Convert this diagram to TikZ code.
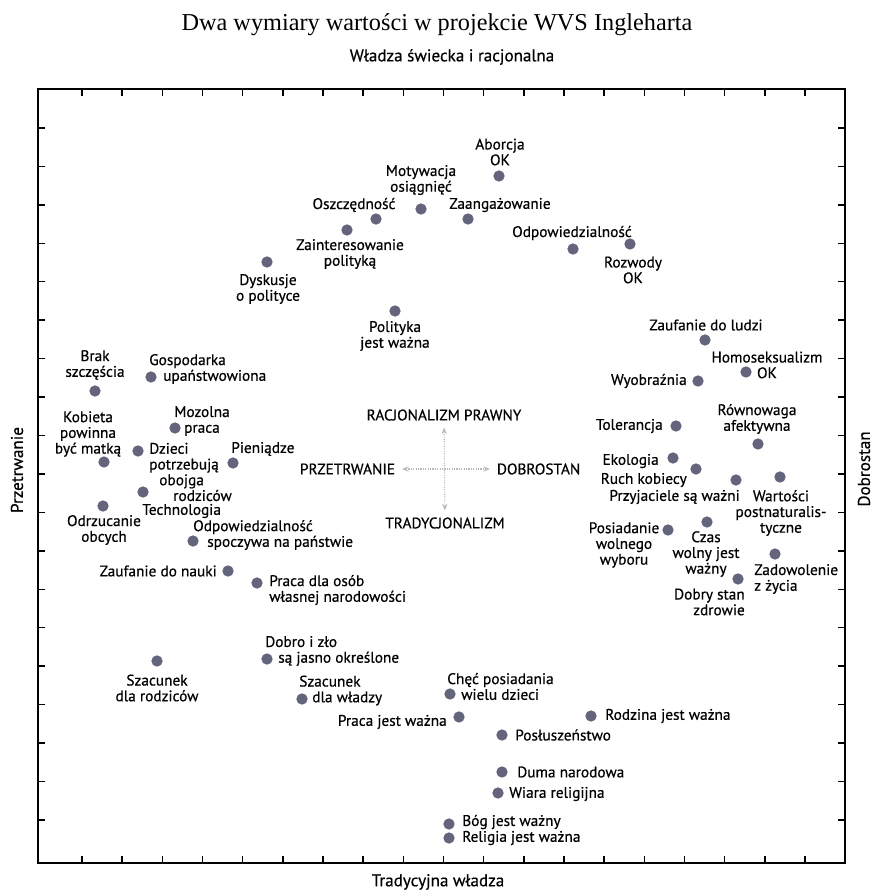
\documentclass[tikz,border=0pt]{standalone}
\usepackage{fontspec}
\setmainfont{Liberation Serif}
\setsansfont{PT Sans}[FakeBold=0.5]
\usepackage{tikz}
\usetikzlibrary{arrows.meta,positioning}
\definecolor{dotc}{RGB}{100,100,124}

\begin{document}
\begin{tikzpicture}[
x=0.75pt, y=-0.75pt,
font=\sffamily\fontsize{11.5}{11.8}\selectfont,
pkt/.style={circle,fill=dotc,minimum size=8.5pt,inner sep=0pt},
lbl/.style={inner sep=0pt,align=center},
axlbl/.style={font=\sffamily\fontsize{12.8}{14}\selectfont},
cross/.style={<->,densely dotted,gray!55,thick,shorten >=3pt,shorten <=3pt,>={Stealth[open,length=5pt,width=4pt]}},
tickmark/.style={line width=1.1pt}
]
    \useasboundingbox (0,0) rectangle (874,893);

    % Titles
    \node[font=\rmfamily\fontsize{18.2}{21}\selectfont] (title) at (437,25) {Dwa wymiary wartości w projekcie WVS Ingleharta};
    \node[axlbl] (gora) at (452,57) {Władza świecka i racjonalna};
    \node[axlbl] (dol) at (438,882) {Tradycyjna władza};
    \node[axlbl,rotate=90] (lewo) at (17,470) {Przetrwanie};
    \node[axlbl,rotate=90] (prawo) at (864,469) {Dobrostan};

    % Draw frame and ticks
    \draw[line width=1.5pt]
    (38,89) coordinate (NW) rectangle (845,863) coordinate (SE);
    \foreach \i in {0,...,18} {
      \draw[tickmark] ({82+40.17*\i},89) -- ++(0,7);
      \draw[tickmark] ({82+40.17*\i},863) -- ++(0,-7);
      \draw[tickmark] (38,{128+38.44*\i}) -- ++(7,0);
      \draw[tickmark] (845,{128+38.44*\i}) -- ++(-7,0);
    }

    % Cross in the middle
    \node[inner sep=2pt] (racj) at (444,415) {RACJONALIZM PRAWNY};
    \node[inner sep=2pt] (trad) at (445,523) {TRADYCJONALIZM};
    \node[inner sep=2pt,anchor=east] (przetr) at (398,469) {PRZETRWANIE};
    \node[inner sep=2pt,anchor=west] (dobr) at (494,469) {DOBROSTAN};
    \draw[cross] (przetr) -- (dobr);
    \draw[cross] (racj) -- (trad);

    % Upper part
    \node[pkt] (aborcja) at (499,176) {};
    \node[lbl] (aborcja-l) at (500,152) {Aborcja\\OK};
    \node[pkt] (motyw) at (421,209) {};
    \node[lbl] (motyw-l) at (421,180) {Motywacja\\osiągnięć};
    \node[pkt] (oszcz) at (376,219) {};
    \node[lbl] (oszcz-l) at (354,205) {Oszczędność};
    \node[pkt] (zaang) at (468,219) {};
    \node[lbl] (zaang-l) at (500,205) {Zaangażowanie};
    \node[pkt] (zaint) at (347,230) {};
    \node[lbl] (zaint-l) at (350,254) {Zainteresowanie\\polityką};
    \node[pkt] (odpow) at (573,249) {};
    \node[lbl] (odpow-l) at (572,233) {Odpowiedzialność};
    \node[pkt] (rozwody) at (630,244) {};
    \node[lbl] (rozwody-l) at (633,270) {Rozwody\\OK};
    \node[pkt] (dysk) at (267,262) {};
    \node[lbl] (dysk-l) at (268,289) {Dyskusje\\o polityce};
    \node[pkt] (polit) at (395,311) {};
    \node[lbl] (polit-l) at (395,336) {Polityka\\jest ważna};

    % Right part
    \node[pkt] (zaufl) at (705,340) {};
    \node[lbl] (zaufl-l) at (706,325) {Zaufanie do ludzi};
    \node[pkt] (homo) at (746,372) {};
    \node[lbl] (homo-l) at (767,365) {Homoseksualizm\\OK};
    \node[pkt] (wyobr) at (698,381) {};
    \node[lbl,anchor=east] (wyobr-l) at (687,381) {Wyobraźnia};
    \node[pkt] (rown) at (758,444) {};
    \node[lbl] (rown-l) at (757,419) {Równowaga\\afektywna};
    \node[pkt] (toler) at (676,426) {};
    \node[lbl,anchor=east] (toler-l) at (663,426) {Tolerancja};
    \node[pkt] (ekol) at (673,458) {};
    \node[lbl,anchor=east] (ekol-l) at (659,461) {Ekologia};
    \node[pkt] (ruch) at (696,469) {};
    \node[lbl,anchor=east] (ruch-l) at (687,480) {Ruch kobiecy};
    \node[pkt] (przyj) at (736,480) {};
    \node[lbl,anchor=east] (przyj-l) at (740,497) {Przyjaciele są ważni};
    \node[pkt] (wart) at (780,477) {};
    \node[lbl] (wart-l) at (781,513) {Wartości\\postnaturalis-\\tyczne};
    \node[pkt] (posiad) at (668,530) {};
    \node[lbl] (posiad-l) at (624,545) {Posiadanie\\wolnego\\wyboru};
    \node[pkt] (czas) at (707,522) {};
    \node[lbl] (czas-l) at (706,554) {Czas\\wolny jest\\ważny};
    \node[pkt] (zadow) at (775,554) {};
    \node[lbl,align=left,anchor=west] (zadow-l) at (754,579) {Zadowolenie\\z życia};
    \node[pkt] (zdrow) at (738,579) {};
    \node[lbl,align=right,anchor=east] (zdrow-l) at (745,602) {Dobry stan\\zdrowie};

    % Left part
    \node[pkt] (brak) at (95,391) {};
    \node[lbl] (brak-l) at (95,365) {Brak\\szczęścia};
    \node[pkt] (gosp) at (151,377) {};
    \node[lbl,align=left,anchor=west] (gosp-l) at (163,369) {\hspace*{-10.5pt}Gospodarka\\upaństwowiona};
    \node[pkt] (mozol) at (175,428) {};
    \node[lbl] (mozol-l) at (202,421) {Mozolna\\praca};
    \node[pkt] (kobieta) at (104,462) {};
    \node[lbl] (kobieta-l) at (88,434) {Kobieta\\powinna\\być matką};
    \node[pkt] (dzieci) at (138,451) {};
    \node[lbl,align=left,anchor=west] (dzieci-l) at (149,472) {Dzieci\\potrzebują\\\hspace*{7.5pt}obojga\\\hspace*{18pt}rodziców};
    \node[pkt] (pieniadze) at (233,463) {};
    \node[lbl,anchor=west] (pieniadze-l) at (231,449) {Pieniądze};
    \node[pkt] (techn) at (143,492) {};
    \node[lbl,anchor=west] (techn-l) at (142,511) {Technologia};
    \node[pkt] (odrz) at (103,506) {};
    \node[lbl] (odrz-l) at (104,530) {Odrzucanie\\obcych};
    \node[pkt] (panstwo) at (193,541) {};
    \node[lbl,align=left,anchor=west] (panstwo-l) at (207,535) {\hspace*{-10.5pt}Odpowiedzialność\\spoczywa na państwie};
    \node[pkt] (nauka) at (228,571) {};
    \node[lbl,anchor=east] (nauka-l) at (217,571) {Zaufanie do nauki};
    \node[pkt] (praca) at (257,583) {};
    \node[lbl,align=left,anchor=west] (praca-l) at (269,590) {Praca dla osób\\własnej narodowości};

    % Lower part
    \node[pkt] (szrodz) at (157,661) {};
    \node[lbl] (szrodz-l) at (157,688) {Szacunek\\dla rodziców};
    \node[pkt] (dobro) at (267,659) {};
    \node[lbl,align=left,anchor=west] (dobro-l) at (278,651) {\hspace*{-9.75pt}Dobro i zło\\są jasno określone};
    \node[pkt] (szwl) at (302,699) {};
    \node[lbl,align=left,anchor=west] (szwl-l) at (312,690.5) {\hspace*{-9.75pt}Szacunek\\dla władzy};
    \node[pkt] (chec) at (450,694) {};
    \node[lbl,align=left,anchor=west] (chec-l) at (461,686.5) {\hspace*{-10.5pt}Chęć posiadania\\wielu dzieci};
    \node[pkt] (prwaz) at (459,717) {};
    \node[lbl,anchor=east] (prwaz-l) at (447,722) {Praca jest ważna};
    \node[pkt] (rodzina) at (591,716) {};
    \node[lbl,anchor=west] (rodzina-l) at (605,716) {Rodzina jest ważna};
    \node[pkt] (posl) at (502,735) {};
    \node[lbl,anchor=west] (posl-l) at (515,735) {Posłuszeństwo};
    \node[pkt] (duma) at (502,772) {};
    \node[lbl,anchor=west] (duma-l) at (517,772) {Duma narodowa};
    \node[pkt] (wiara) at (498,793) {};
    \node[lbl,anchor=west] (wiara-l) at (509,794) {Wiara religijna};
    \node[pkt] (bog) at (449,824) {};
    \node[lbl,anchor=west] (bog-l) at (462,822) {Bóg jest ważny};
    \node[pkt] (religia) at (449,838) {};
    \node[lbl,anchor=west] (religia-l) at (462,838) {Religia jest ważna};
\end{tikzpicture}
\end{document}
